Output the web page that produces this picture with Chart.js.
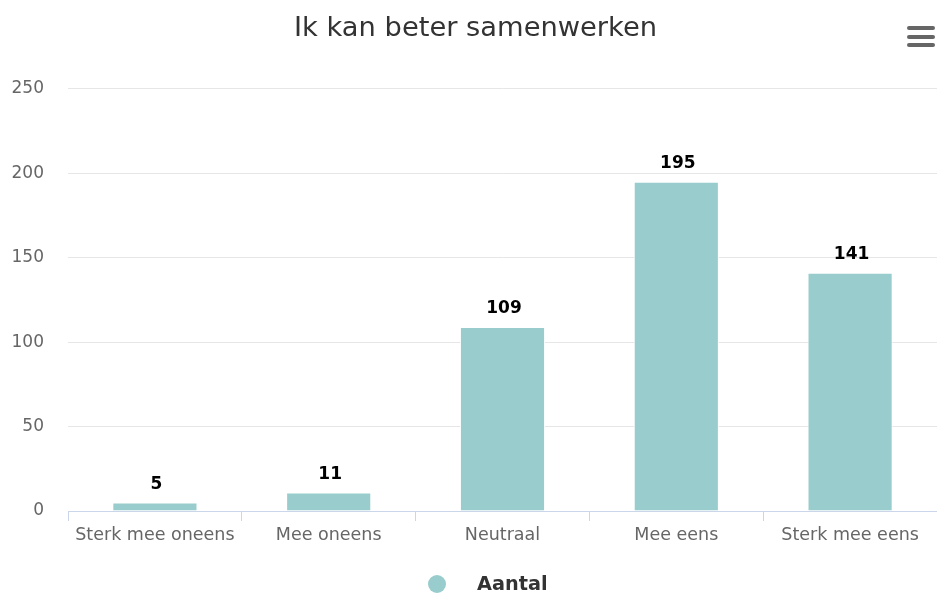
<!DOCTYPE html>
<html>
<head>
<meta charset="utf-8">
<script src="https://cdn.jsdelivr.net/npm/chart.js@4/dist/chart.umd.min.js"></script>
<style>
html,body{margin:0;padding:0;background:#ffffff;}
#wrap{width:937px;height:594px;position:relative;}
</style>
</head>
<body>
<div id="wrap"><canvas id="c" width="937" height="594"></canvas></div>
<script>
const titleText = "Ik kan beter samenwerken";
const categories = ["Sterk mee oneens", "Mee oneens", "Neutraal", "Mee eens", "Sterk mee eens"];
const seriesName = "Aantal";
const values = [5, 11, 109, 195, 141];
const yTicks = [0, 50, 100, 150, 200, 250];

const barColor = "#99cccc";
const FONT = "'DejaVu Sans', sans-serif";

const dataLabels = {
  id: 'dataLabels',
  afterDatasetsDraw(chart) {
    const ctx = chart.ctx;
    const meta = chart.getDatasetMeta(0);
    ctx.save();
    ctx.font = "bold 17px " + FONT;
    ctx.fillStyle = "#000000";
    ctx.textAlign = "center";
    ctx.textBaseline = "middle";
    meta.data.forEach((bar, i) => {
      ctx.fillText(String(chart.data.datasets[0].data[i]), bar.x + 1.5, bar.y - 18);
    });
    ctx.restore();
  }
};

const titleShift = {
  id: 'titleShift',
  afterLayout(chart) {
    if (chart.titleBlock) { chart.titleBlock.left += 14; }
  }
};

const extras = {
  id: 'extras',
  afterDraw(chart) {
    const ctx = chart.ctx;
    const cx = chart.width / 2;
    ctx.save();
    // legend
    ctx.fillStyle = barColor;
    ctx.beginPath();
    ctx.arc(cx - 31.5, 584, 9, 0, Math.PI * 2);
    ctx.fill();
    ctx.font = "bold 19.3px " + FONT;
    ctx.fillStyle = "#333333";
    ctx.textAlign = "left";
    ctx.textBaseline = "middle";
    ctx.fillText(seriesName, cx + 8.5, 585);
    // menu icon
    ctx.strokeStyle = "#666666";
    ctx.lineWidth = 4;
    ctx.lineCap = "round";
    [28, 37, 45].forEach(y => {
      ctx.beginPath();
      ctx.moveTo(909, y);
      ctx.lineTo(933, y);
      ctx.stroke();
    });
    ctx.restore();
  }
};

new Chart(document.getElementById('c'), {
  type: 'bar',
  data: {
    labels: categories,
    datasets: [{
      label: seriesName,
      data: values,
      backgroundColor: barColor,
      borderColor: "#ffffff",
      borderWidth: 1,
      barPercentage: 1,
      categoryPercentage: 0.49
    }]
  },
  options: {
    responsive: false,
    animation: false,
    devicePixelRatio: 1,
    layout: { padding: { left: 0, right: 0, top: 0, bottom: 44 } },
    plugins: {
      legend: { display: false },
      tooltip: { enabled: false },
      title: {
        display: true,
        text: titleText,
        color: "#333333",
        font: { family: FONT, size: 27.3, weight: 'normal', lineHeight: 1.2 },
        padding: { top: 13, bottom: 43 }
      }
    },
    scales: {
      x: {
        offset: true,
        grid: {
          display: true,
          offset: true,
          drawOnChartArea: false,
          drawTicks: true,
          tickLength: 10,
          color: "#ccd6eb"
        },
        border: { display: true, color: "#ccd6eb", width: 1 },
        ticks: {
          color: "#666666",
          font: { family: FONT, size: 17.5 },
          padding: 4,
          maxRotation: 0,
          autoSkip: false
        }
      },
      y: {
        min: 0,
        max: 250,
        afterFit(scale) { scale.width = 68; },
        afterBuildTicks(scale) { scale.ticks = yTicks.map(v => ({ value: v })); },
        grid: { color: "#e6e6e6", drawTicks: false, lineWidth: 1 },
        border: { display: false },
        ticks: {
          color: "#666666",
          font: { family: FONT, size: 17 },
          padding: 24
        }
      }
    }
  },
  plugins: [dataLabels, titleShift, extras]
});
</script>
</body>
</html>
